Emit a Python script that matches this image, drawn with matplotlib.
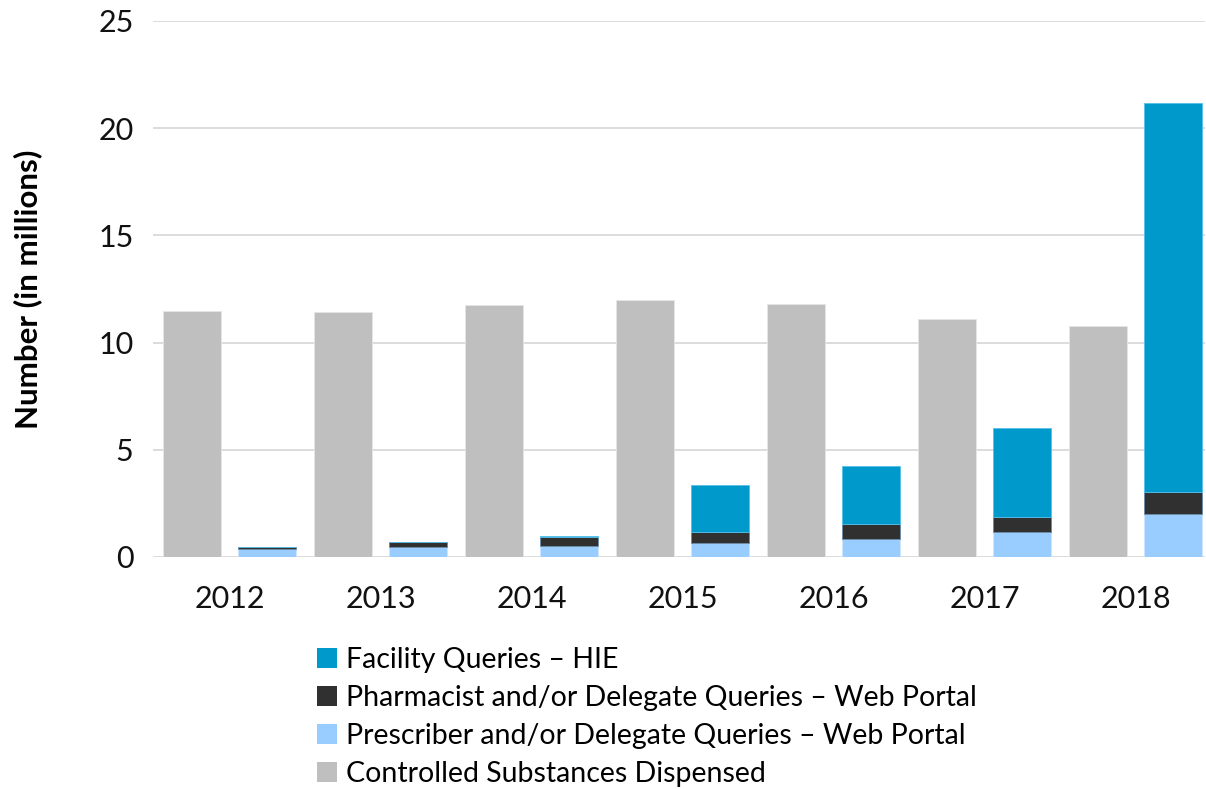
import matplotlib
matplotlib.use("Agg")
import matplotlib.pyplot as plt
import numpy as np
from matplotlib.patches import Patch

years = ['2012', '2013', '2014', '2015', '2016', '2017', '2018']
dispensed = [11.49, 11.41, 11.75, 12.00, 11.80, 11.09, 10.77]
prescriber = [0.39, 0.45, 0.50, 0.64, 0.82, 1.15, 1.99]
pharmacist = [0.08, 0.25, 0.43, 0.51, 0.73, 0.72, 1.04]
facility = [0.00, 0.00, 0.05, 2.19, 2.71, 4.13, 18.13]

labels = ['Facility Queries \u2013 HIE',
          'Pharmacist and/or Delegate Queries \u2013 Web Portal',
          'Prescriber and/or Delegate Queries \u2013 Web Portal',
          'Controlled Substances Dispensed']
colors = ['#0099CC', '#303030', '#99CCFF', '#BFBFBF']

plt.rcParams['font.family'] = ['Lato', 'DejaVu Sans']

fig = plt.figure(figsize=(12.06, 7.89), dpi=100)
W, H = 1206, 789
ax = fig.add_axes([153 / W, (H - 557) / H, (1205 - 153) / W, (557 - 21) / H])

x = np.arange(len(years))
w = 0.384
d = 0.247
p = np.array(prescriber)
ph = np.array(pharmacist)
f = np.array(facility)

ax.bar(x - d, dispensed, w, color=colors[3], edgecolor='#E6E6E6', linewidth=0.6, zorder=3)
ax.bar(x + d, p, w, color=colors[2], edgecolor='#CFE6FF', linewidth=0.6, zorder=3)
ax.bar(x + d, ph, w, bottom=p, color=colors[1], edgecolor='#6A8AA8', linewidth=0.6, zorder=3)
ax.bar(x + d, f, w, bottom=p + ph, color=colors[0], edgecolor='#55C0E8', linewidth=0.6, zorder=3)

ax.set_xlim(-0.507, 6.46)
ax.set_ylim(0, 25)
ax.set_yticks([0, 5, 10, 15, 20, 25])
ax.set_xticks(x)
ax.set_xticklabels(years)
ax.yaxis.grid(True, color='#D9D9D9', linewidth=1.3, zorder=0)
ax.set_axisbelow(True)
for s in ['top', 'right', 'left', 'bottom']:
    ax.spines[s].set_visible(False)
ax.tick_params(axis='both', length=0, labelsize=22, colors='#111111')
ax.tick_params(axis='y', pad=14)
ax.tick_params(axis='x', pad=20)
ax.set_ylabel('Number (in millions)', fontsize=22.5, fontweight='bold', labelpad=40)

handles = [Patch(facecolor=c) for c in colors]
fig.legend(handles, labels, loc='upper left', bbox_to_anchor=(306 / W, 1 - 636 / H),
           frameon=False, fontsize=20.5, handlelength=0.7, handleheight=0.7,
           handletextpad=0.3, labelspacing=0.42, borderaxespad=0)

fig.savefig('out.png', dpi=100)
